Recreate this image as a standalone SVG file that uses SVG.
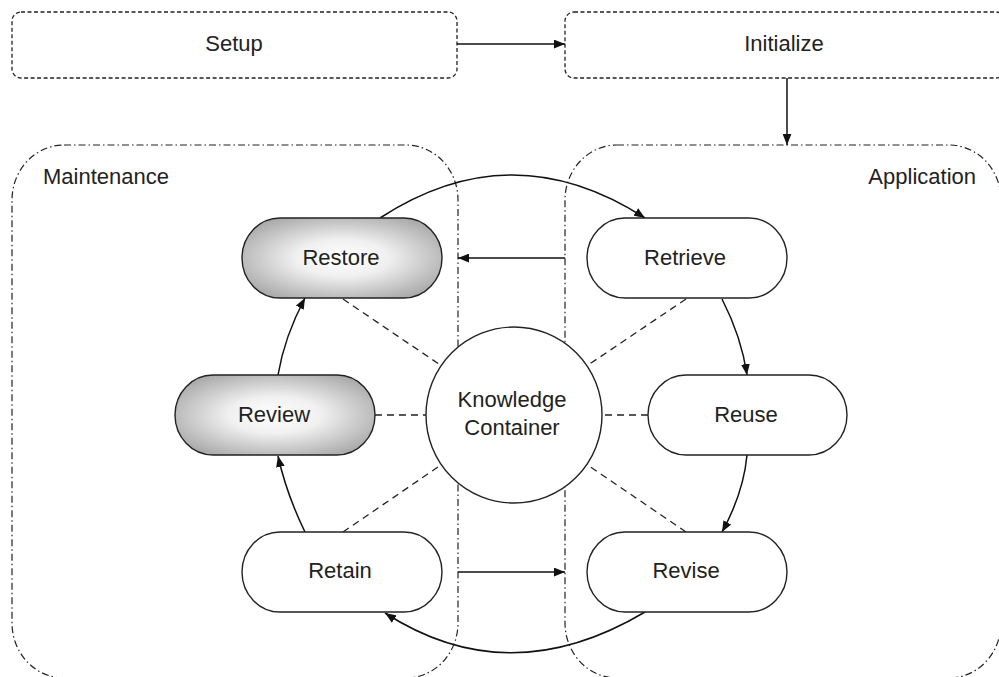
<svg xmlns="http://www.w3.org/2000/svg" width="999" height="677" viewBox="0 0 999 677">
  <style>
    text { font-family: "Liberation Sans", Arial, sans-serif; font-size: 22px; fill: #222; }
    .mid { text-anchor: middle; }
    .box { fill: none; stroke: #222; stroke-width: 1.3; stroke-dasharray: 4 2.5; }
    .region { fill: none; stroke: #222; stroke-width: 1.2; stroke-dasharray: 7 3 1.5 3; }
    .node { fill: #fff; stroke: #222; stroke-width: 1.4; }
    .shaded { fill: url(#shade); }
    .flow { fill: none; stroke: #111; stroke-width: 1.5; marker-end: url(#arrow); }
    .link { fill: none; stroke: #222; stroke-width: 1.3; stroke-dasharray: 7 5; }
  </style>
  <defs>
    <radialGradient id="shade" cx="50%" cy="50%" r="58%">
      <stop offset="0" stop-color="#ffffff"/>
      <stop offset="0.4" stop-color="#f0f0f0"/>
      <stop offset="1" stop-color="#ababab"/>
    </radialGradient>
    <marker id="arrow" viewBox="0 0 10 8" refX="10" refY="4" markerWidth="11" markerHeight="9" markerUnits="userSpaceOnUse" orient="auto">
      <path d="M0,0 L10,4 L0,8 z" fill="#111"/>
    </marker>
  </defs>

  <rect width="999" height="677" fill="#fff"/>

  <g id="regions">
    <g id="maintenance">
      <rect class="region" x="12" y="145" width="446" height="533" rx="52" ry="55"/>
      <text x="43" y="184">Maintenance</text>
    </g>
    <g id="application">
      <rect class="region" x="565" y="145" width="436" height="533" rx="52" ry="55"/>
      <text x="976" y="184" text-anchor="end">Application</text>
    </g>
  </g>

  <g id="setup">
    <rect class="box" x="12" y="12" width="445" height="66" rx="9"/>
    <text class="mid" x="234" y="51">Setup</text>
  </g>
  <g id="initialize">
    <rect class="box" x="565" y="12" width="440" height="66" rx="9"/>
    <text class="mid" x="784" y="51">Initialize</text>
  </g>

  <g id="connectors">
    <line class="flow" x1="457" y1="44" x2="565" y2="44"/>
    <line class="flow" x1="787" y1="78" x2="787" y2="145"/>
    <path class="flow" d="M380,218 Q512,132 645,218"/>
    <line class="flow" x1="565" y1="258" x2="458" y2="258"/>
    <path class="flow" d="M722,299 Q741.5,337 747,375"/>
    <path class="flow" d="M747,455 Q743.5,493 722,532"/>
    <path class="flow" d="M645,612 Q509,693 385,613"/>
    <path class="flow" d="M305,532 Q286.5,494 278,456"/>
    <path class="flow" d="M278,375 Q284.5,336.5 305,298"/>
    <line class="flow" x1="458" y1="572" x2="565" y2="572"/>
    <line class="link" x1="343" y1="299" x2="514" y2="415"/>
    <line class="link" x1="686" y1="299" x2="514" y2="415"/>
    <line class="link" x1="375" y1="415" x2="514" y2="415"/>
    <line class="link" x1="648" y1="415" x2="514" y2="415"/>
    <line class="link" x1="343" y1="532" x2="514" y2="415"/>
    <line class="link" x1="686" y1="532" x2="514" y2="415"/>
  </g>

  <g id="knowledge-container">
    <circle class="node" cx="514" cy="415" r="88"/>
    <text class="mid" x="512" y="407">Knowledge</text>
    <text class="mid" x="512" y="435">Container</text>
  </g>

  <g id="restore">
    <rect class="node shaded" x="242" y="218" width="200" height="80" rx="38" ry="40"/>
    <text class="mid" x="341" y="265">Restore</text>
  </g>
  <g id="retrieve">
    <rect class="node" x="587" y="218" width="200" height="80" rx="38" ry="40"/>
    <text class="mid" x="685" y="265">Retrieve</text>
  </g>
  <g id="review">
    <rect class="node shaded" x="175" y="375" width="200" height="80" rx="38" ry="40"/>
    <text class="mid" x="274" y="422">Review</text>
  </g>
  <g id="reuse">
    <rect class="node" x="648" y="375" width="199" height="80" rx="38" ry="40"/>
    <text class="mid" x="746" y="422">Reuse</text>
  </g>
  <g id="retain">
    <rect class="node" x="242" y="532" width="200" height="80" rx="38" ry="40"/>
    <text class="mid" x="340" y="578">Retain</text>
  </g>
  <g id="revise">
    <rect class="node" x="587" y="532" width="200" height="80" rx="38" ry="40"/>
    <text class="mid" x="686" y="578">Revise</text>
  </g>
</svg>
